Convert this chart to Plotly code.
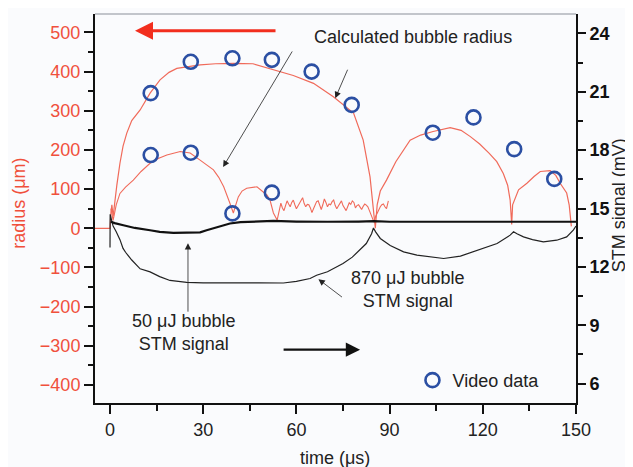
import plotly.graph_objects as go

# ---------------- data ----------------
# calculated radius, 870 uJ bubble (um)
t_r870 = [-5, 0, 0.3, 0.6, 1.0, 1.6, 2.2, 3.2, 4.2, 5.4, 7, 9.7, 12.9, 16.1, 19, 21.5, 25, 29, 34,
          39.7, 46, 52.6, 59, 65.5, 71.9, 78.4, 81.5, 83.7, 84.6, 85.1,
          85.4, 86, 87, 89, 92, 96.6, 100, 104, 107, 109.5, 113, 116, 119, 122, 124.5, 126.6, 128,
          128.8, 129.3, 129.6, 131.5, 134.2, 136.5, 138.5, 141.7, 143.5, 144.9, 147, 147.8, 148.1, 148.5]
r870 = [0, 0, 40, 60, 30, 72, 110, 166, 210, 243, 275, 302, 345, 379, 398, 408, 412, 417, 420,
        421, 420, 404, 390, 370, 336, 294, 225, 131, 55, 5,
        0, 60, 95, 123, 170, 225, 238, 247, 253, 257, 250, 234, 215, 192, 170, 140, 110,
        72, 10, 60, 98, 115, 132, 145, 147, 135, 115, 90, 60, 30, 5]

# calculated radius, 50 uJ bubble (um)
t_r50 = [0.3, 1.0, 2.0, 3.2, 5, 7.5, 10, 12.9, 15.5, 18.3, 22.6, 25.8, 29, 31, 33.3, 35, 36.6, 38.6,
         39.7, 40.3, 41.3, 42.5, 44, 47.3, 49.5, 50.5, 51.5, 52.6, 53.8,
         55, 55.5, 56, 56.5, 57, 57.5, 58, 58.5, 59, 59.5, 60, 60.5, 61, 61.5, 62, 62.5, 63, 63.5,
         64, 64.5, 65, 65.5, 66, 66.5, 67, 67.5, 68, 68.5, 69, 69.5, 70, 70.5, 71, 71.5, 72, 72.5,
         73, 73.5, 74, 74.5, 75, 75.5, 76, 76.5, 77, 77.5, 78, 78.5, 79, 79.5, 80, 80.5, 81, 81.5,
         82, 82.5, 83, 83.5, 84, 84.5, 85, 85.5, 86, 86.5, 87, 87.5, 88, 88.5, 89, 89.6]
r50 = [50, 20, 60, 89, 105, 123, 145, 166, 178, 187, 196, 192, 174, 163, 149, 130, 106, 64,
       39, 55, 80, 95, 102, 106, 93, 85, 72, 39, 21,
       64, 52, 45, 58, 70, 62, 55, 66, 72, 60, 50, 57, 65, 70, 78, 63, 55, 61, 60, 52, 40, 50,
       62, 68, 70, 58, 48, 60, 75, 66, 55, 62, 60, 68, 72, 58, 50, 57, 63, 70, 58, 52,
       45, 55, 65, 61, 70, 66, 52, 58, 60, 54, 48, 56, 62, 59, 55, 45, 35, 25, 15, 30, 40, 50,
       55, 60, 62, 55, 50, 70]

# STM signal, 870 uJ bubble (mV)
t_s870 = [0, 0.05, 0.5, 1, 2, 3.2, 4.2, 5, 7, 9.7, 12.9, 16, 19.3, 24.7, 30, 39.7, 48, 55.8, 60, 64.4,
          66.5, 70, 75, 78, 80.5, 82.5, 84.2, 84.8, 85.5, 87, 90.2, 94.5, 98.8, 103, 107.4, 112.8,
          118.2, 121, 124.6, 128.8, 129.9, 131, 133.1, 136, 139.5, 143.8, 147, 149.2, 150]
s870 = [13.0, 14.7, 14.4, 14.1, 13.8, 13.4, 12.95, 12.75, 12.35, 11.9, 11.74, 11.5, 11.3, 11.2, 11.18, 11.16,
        11.18, 11.17, 11.25, 11.4, 11.57, 11.75, 12.17, 12.5, 12.86, 13.2, 13.7, 14.0, 13.8, 13.46, 13.1,
        12.77, 12.6, 12.5, 12.43, 12.55, 12.86, 13.0, 13.2, 13.63, 13.8, 13.7, 13.54, 13.4, 13.28, 13.37,
        13.54, 13.9, 14.1]

# STM signal, 50 uJ bubble (mV)
t_s50 = [0.3, 1.5, 4.3, 8, 12.9, 16, 20.4, 25.8, 29, 31.1, 34, 38.6, 42, 46, 52.6, 60, 65.5, 70, 80,
         85, 90, 100, 110, 120, 130, 140, 150]
s50 = [14.32, 14.25, 14.14, 14.0, 13.88, 13.8, 13.75, 13.75, 13.77, 13.88, 14.02, 14.23, 14.3, 14.33,
       14.36, 14.33, 14.31, 14.32, 14.33, 14.35, 14.32, 14.32, 14.3, 14.33, 14.32, 14.31, 14.32]

# video data (um)
t_video = [13.1, 26, 39.4, 52.1, 64.9, 77.8, 103.9, 117, 130.1, 143, 13.1, 26, 39.4, 52.1]
r_video = [345, 425, 434, 430, 400, 315, 244, 283, 202, 126, 187, 193, 38, 91]

x_ticks = [0, 30, 60, 90, 120, 150]
y_ticks = [-400, -300, -200, -100, 0, 100, 200, 300, 400, 500]
y2_ticks = [6, 9, 12, 15, 18, 21, 24]

# ---------------- styling ----------------
RED = "#F0503C"
RED_LINE = "#F06A5A"
BLUE = "#2B4FA3"
FONT = "Liberation Sans, Arial, sans-serif"
FS = 18

fig = go.Figure()
fig.add_trace(go.Scatter(x=t_r870, y=r870, mode="lines", line=dict(color=RED_LINE, width=1.2),
                         showlegend=False, yaxis="y"))
fig.add_trace(go.Scatter(x=t_r50, y=r50, mode="lines", line=dict(color=RED_LINE, width=1.1),
                         showlegend=False, yaxis="y"))
fig.add_trace(go.Scatter(x=t_s870, y=s870, mode="lines", line=dict(color="#222222", width=1.2),
                         showlegend=False, yaxis="y2"))
fig.add_trace(go.Scatter(x=t_s50, y=s50, mode="lines", line=dict(color="#111111", width=2.2),
                         showlegend=False, yaxis="y2"))
fig.add_trace(go.Scatter(x=t_video, y=r_video, mode="markers", name="Video data",
                         marker=dict(symbol="circle-open", size=14, color=BLUE, line=dict(width=2.6)),
                         yaxis="y"))

ann = []
def text(x, y, s, ref="x", color="#222", angle=0):
    return dict(x=x, y=y, xref=ref if ref == "paper" else "x", yref=ref if ref == "paper" else "y",
                text=s, showarrow=False, xanchor="center", yanchor="middle", textangle=angle,
                font=dict(size=FS, color=color))
ann.append(text(97.5, 488, "Calculated bubble radius"))
ann.append(text(23.8, -267, "50 \u03bcJ bubble<br>STM signal"))
ann.append(text(95.7, -156, "870 \u03bcJ bubble<br>STM signal"))
# pointer arrows
def arrow(x, y, ax, ay, color="#222", width=0.8, size=1.6):
    return dict(x=x, y=y, xref="x", yref="y", ax=ax, ay=ay, text="", showarrow=True,
                arrowhead=2, arrowsize=size, arrowwidth=width, arrowcolor=color)
ann.append(arrow(36.4, 156.5, 70, -117))
ann.append(arrow(72.5, 332, 13, -30))
ann.append(arrow(25.1, -38, 0, 70))
ann.append(arrow(67.1, -130, 25, 19))
ann.append(arrow(8.05, 504.5, 142, 0, color="#F22E1E", width=3, size=1.2))
ann.append(arrow(80.5, -310, -78, 0, color="#111", width=2.2, size=1.3))
# axis titles
ann.append(text(-0.158, 0.512, "radius (\u03bcm)", ref="paper", color=RED, angle=-90))
ann.append(text(1.09, 0.509, "STM signal (mV)", ref="paper", angle=-90))
ann.append(text(0.498, -0.141, "time (\u03bcs)", ref="paper"))

fig.update_layout(
    width=625, height=459,
    margin=dict(l=87, r=57, t=6, b=64, autoexpand=False),
    paper_bgcolor="#fafbfd", plot_bgcolor="#fafbfd",
    font=dict(family=FONT, size=FS, color="#222"),
    annotations=ann,
    showlegend=True,
    legend=dict(x=0.66, y=0.058, xanchor="left", yanchor="middle", bgcolor="rgba(0,0,0,0)",
                font=dict(size=FS, color="#222")),
    xaxis=dict(range=[-4.83, 150], tickvals=x_ticks, ticks="outside", ticklen=9, tickwidth=1.5,
               tickcolor="#111", showline=True, linecolor="#111", linewidth=2, showgrid=False,
               zeroline=False, tickfont=dict(size=FS, color="#222"), automargin=False,
               minor=dict(dtick=15, tick0=0, ticks="outside", ticklen=6, tickwidth=1.5, tickcolor="#111",
                          showgrid=False)),
    yaxis=dict(range=[-446, 547], tickvals=y_ticks, ticks="outside", ticklen=9, tickwidth=1.5,
               tickcolor="#111", showline=True, linecolor="#111", linewidth=2, showgrid=False,
               zeroline=False, tickfont=dict(size=FS, color=RED), automargin=False,
               minor=dict(dtick=50, tick0=0, ticks="outside", ticklen=5, tickwidth=1.5, tickcolor="#111",
                          showgrid=False)),
    yaxis2=dict(range=[5, 25], tickvals=y2_ticks, overlaying="y", side="right", ticks="outside",
                ticklen=8, tickwidth=1.5, tickcolor="#111", showline=True, linecolor="#111", linewidth=2,
                showgrid=False, zeroline=False, automargin=False,
                tickfont=dict(size=FS, color="#111", family=FONT, weight="bold"),
                minor=dict(dtick=1.5, tick0=0, ticks="outside", ticklen=5, tickwidth=1.5, tickcolor="#111",
                           showgrid=False)),
    shapes=[dict(type="line", xref="paper", yref="paper", x0=0, x1=1, y0=1, y1=1,
                 line=dict(color="#8a8f99", width=1))],
)

fig.write_html("out.html")
